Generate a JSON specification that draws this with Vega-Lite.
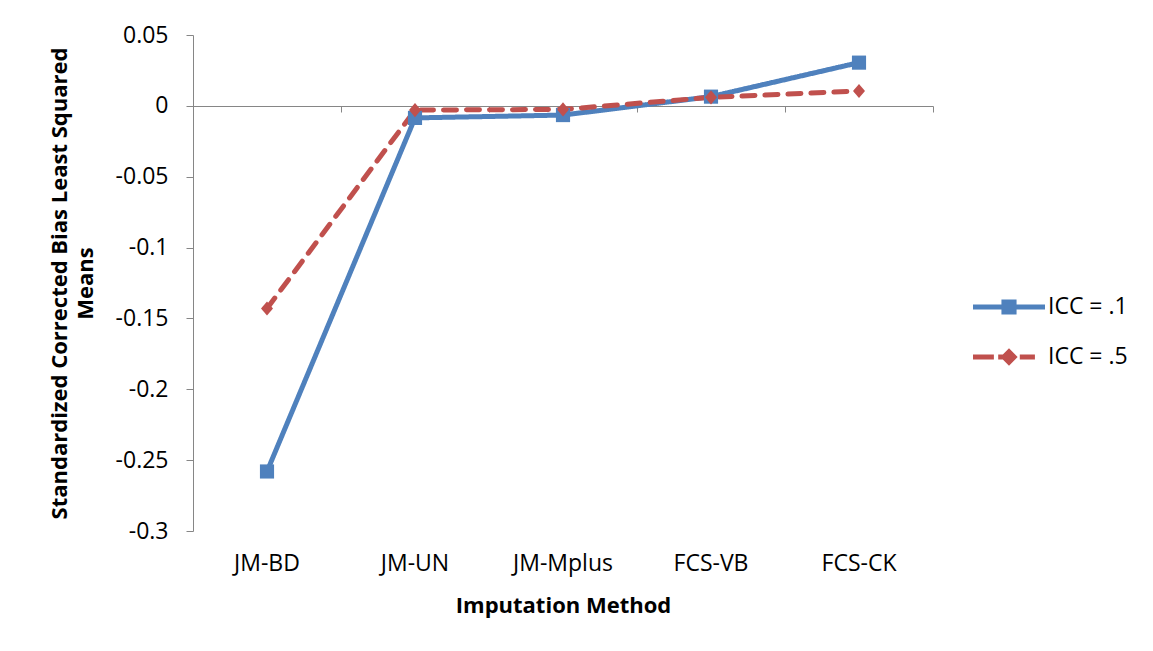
{
  "$schema": "https://vega.github.io/schema/vega-lite/v6.json",
  "width": 740,
  "height": 496,
  "autosize": {"type": "none"},
  "padding": {"left": 193, "top": 35, "right": 220, "bottom": 120},
  "background": "white",
  "config": {
    "view": {"stroke": null},
    "font": "Open Sans",
    "axis": {"labelFont": "Open Sans", "titleFont": "Open Sans", "labelColor": "#000000", "titleColor": "#000000", "grid": false}
  },
  "data": {
    "values": [
      {"method": "JM-BD", "series": "ICC = .1", "value": -0.258},
      {"method": "JM-UN", "series": "ICC = .1", "value": -0.0085},
      {"method": "JM-Mplus", "series": "ICC = .1", "value": -0.0065},
      {"method": "FCS-VB", "series": "ICC = .1", "value": 0.0065},
      {"method": "FCS-CK", "series": "ICC = .1", "value": 0.0305},
      {"method": "JM-BD", "series": "ICC = .5", "value": -0.143},
      {"method": "JM-UN", "series": "ICC = .5", "value": -0.003},
      {"method": "JM-Mplus", "series": "ICC = .5", "value": -0.0025},
      {"method": "FCS-VB", "series": "ICC = .5", "value": 0.006},
      {"method": "FCS-CK", "series": "ICC = .5", "value": 0.0105}
    ]
  },
  "layer": [
    {
      "mark": {"type": "line", "strokeWidth": 5, "strokeCap": "round", "strokeJoin": "round"},
      "encoding": {
        "x": {
          "field": "method", "type": "nominal",
          "sort": ["JM-BD", "JM-UN", "JM-Mplus", "FCS-VB", "FCS-CK"],
          "scale": {"type": "band", "paddingInner": 0, "paddingOuter": 0},
          "axis": {"orient": "bottom", "domain": false, "ticks": false, "labelAngle": 0, "labelFontSize": 23, "labelPadding": 21, "title": "Imputation Method", "titleFontSize": 22, "titleFontWeight": "bold", "titlePadding": 20}
        },
        "y": {
          "field": "value", "type": "quantitative",
          "scale": {"domain": [-0.3, 0.05], "nice": false, "zero": false},
          "axis": {
            "values": [-0.3, -0.25, -0.2, -0.15, -0.1, -0.05, 0, 0.05],
            "labelExpr": "toString(round(datum.value * 100) / 100)",
            "labelFontSize": 23, "labelPadding": 18,
            "domainColor": "#868686", "tickColor": "#868686", "tickSize": 7,
            "title": ["Standardized Corrected Bias Least Squared", "Means"],
            "titleFontSize": 22, "titleFontWeight": "bold", "titleLineHeight": 26, "titlePadding": 18
          }
        },
        "color": {"field": "series", "type": "nominal", "scale": {"domain": ["ICC = .1", "ICC = .5"], "range": ["#4F81BD", "#C0504D"]}, "legend": null},
        "strokeDash": {"field": "series", "type": "nominal", "scale": {"domain": ["ICC = .1", "ICC = .5"], "range": [[1, 0], [13, 10]]}, "legend": null}
      }
    },
    {
      "mark": {"type": "point", "filled": true, "opacity": 1, "size": 200},
      "encoding": {
        "x": {
          "field": "method", "type": "nominal",
          "sort": ["JM-BD", "JM-UN", "JM-Mplus", "FCS-VB", "FCS-CK"],
          "scale": {"type": "band", "paddingInner": 0, "paddingOuter": 0},
          "axis": {"orient": "bottom", "offset": -425, "labels": false, "title": null, "domain": true, "domainColor": "#868686", "ticks": true, "tickColor": "#868686", "tickSize": 6, "tickBand": "extent"}
        },
        "y": {"field": "value", "type": "quantitative"},
        "color": {"field": "series", "type": "nominal", "scale": {"domain": ["ICC = .1", "ICC = .5"], "range": ["#4F81BD", "#C0504D"]}, "legend": null},
        "shape": {"field": "series", "type": "nominal", "scale": {"domain": ["ICC = .1", "ICC = .5"], "range": ["square", "M0,-1L0.85,0L0,1L-0.85,0Z"]}, "legend": null}
      }
    },
    {
      "mark": {"type": "point", "filled": true, "opacity": 0, "size": 10},
      "encoding": {
        "x": {"field": "method", "type": "nominal", "sort": ["JM-BD", "JM-UN", "JM-Mplus", "FCS-VB", "FCS-CK"], "axis": null},
        "y": {"field": "value", "type": "quantitative"},
        "color": {
          "field": "series", "type": "nominal",
          "scale": {"domain": ["ICC = .1", "ICC = .5"], "range": ["#4F81BD", "#C0504D"]},
          "legend": {"orient": "none", "legendX": 780, "legendY": 236, "title": null, "labelFont": "Open Sans", "labelFontSize": 23, "labelColor": "#000000", "symbolSize": 5184, "symbolOpacity": 1, "symbolStrokeWidth": 0, "labelOffset": 3, "rowPadding": 2}
        },
        "shape": {
          "field": "series", "type": "nominal",
          "scale": {"domain": ["ICC = .1", "ICC = .5"], "range": [
            "M-1,-0.07H1V0.07H-1Z M-0.21,-0.21H0.21V0.21H-0.21Z",
            "M-1,-0.07H-0.42V0.07H-1Z M-0.3,-0.07H0V0.07H-0.3Z M0.3,-0.07H0.72V0.07H0.3Z M0,-0.24L0.24,0L0,0.24L-0.24,0Z"
          ]},
          "legend": {"orient": "none", "legendX": 780, "legendY": 236, "title": null, "labelFont": "Open Sans", "labelFontSize": 23, "labelColor": "#000000", "symbolSize": 5184, "symbolOpacity": 1, "symbolStrokeWidth": 0, "labelOffset": 3, "rowPadding": 2}
        }
      }
    }
  ],
  "resolve": {"scale": {"color": "independent", "shape": "independent"}, "axis": {"x": "independent"}}
}
